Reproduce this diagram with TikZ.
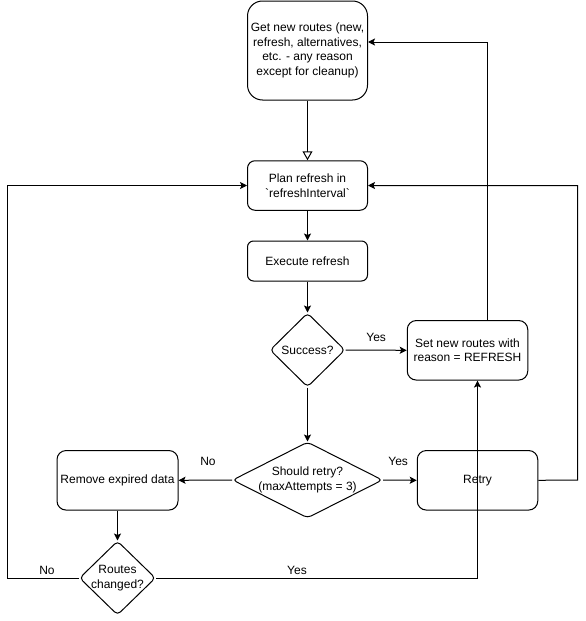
\documentclass[tikz,border=0pt]{standalone}
\usepackage{fontspec}
\setmainfont{Liberation Sans}[Ligatures=TeXOff]
\usetikzlibrary{shapes.geometric,arrows.meta}
\begin{document}
\begin{tikzpicture}[x=1pt,y=-1pt,
  every node/.style={font=\fontsize{12}{14.5}\selectfont},
  box/.style={draw,line width=1pt,rounded corners=#1,align=center,inner sep=0pt},
  box/.default=8pt,
  dia/.style={draw,line width=1pt,diamond,rounded corners=4pt,inner sep=0pt,align=center},
  dtext/.style={align=center,inner sep=0pt},
  conn/.style={line width=1pt,-{Stealth[length=7pt,width=7pt,inset=1.5pt]}},
  plain/.style={line width=1pt},
  lbl/.style={inner sep=0pt}]
\useasboundingbox (0,0) rectangle (586,621);
% nodes
\node[box=15pt,minimum width=120pt,minimum height=99pt] (A) at (307.5,50.5)
  {Get new routes (new,\\refresh, alternatives,\\etc. - any reason\\except for cleanup)};
\node[box=7.5pt,minimum width=120pt,minimum height=49.5pt] (B) at (307.5,185.5)
  {Plan refresh in\\\symbol{96}refreshInterval\symbol{96}};
\node[box=6pt,minimum width=120pt,minimum height=40pt] (C) at (307.5,261)
  {Execute refresh};
\node[dia,minimum width=75pt,minimum height=74pt] (D) at (307.5,350) {};
\node[dtext] (Dt) at (D.center) {Success?};
\node[box=9pt,minimum width=120.5pt,minimum height=59.5pt] (E) at (467.5,350.3)
  {Set new routes with\\reason = REFRESH};
\node[dia,minimum width=150pt,minimum height=76pt] (F) at (307.5,480) {};
\node[dtext] (Ft) at (F.center) {Should retry?\\(maxAttempts = 3)};
\node[box=9pt,minimum width=121pt,minimum height=59.5pt] (G) at (117.5,480.3)
  {Remove expired data};
\node[box=9pt,minimum width=120.5pt,minimum height=59.5pt] (H) at (477.5,480.3)
  {Retry};
\node[dia,minimum width=76pt,minimum height=74pt] (I) at (117.5,578) {};
\node[dtext] (It) at (I.center) {Routes\\changed?};
% coordinates
\coordinate (nl) at (7.5,578);
\coordinate (hr) at (577.5,480);
\coordinate (et) at (487.5,320.5);
\coordinate (at) at (487.5,42);
% connectors
\draw[line width=1pt,-{Triangle[open,length=9pt,width=10pt]}] (A.south) -- (B.north);
\draw[conn] (B.south) -- (C.north);
\draw[conn] (C.south) -- (D.north);
\draw[conn] (D.east) -- (E.west) node[lbl,pos=0.5,above=8pt] (y1) {Yes};
\draw[conn] (D.south) -- (F.north);
\draw[conn] (F.west) -- (G.east) node[lbl,pos=0.45,above=14pt] (n1) {No};
\draw[conn] (F.east) -- (H.west) node[lbl,pos=0.45,above=14pt] (y2) {Yes};
\draw[conn] (G.south) -- (I.north);
\draw[conn] (I.west) -- (nl) |- (B.west);
\node[lbl] (n2) at (47,570) {No};
\draw[conn] (I.east) -| (E.south -| H.center);
\node[lbl] (y3) at (297,570) {Yes};
\draw[conn] (H.east) -- (hr) |- (B.east);
\draw[conn] (et) -- (at) -- (A.east |- at);
\end{tikzpicture}
\end{document}
